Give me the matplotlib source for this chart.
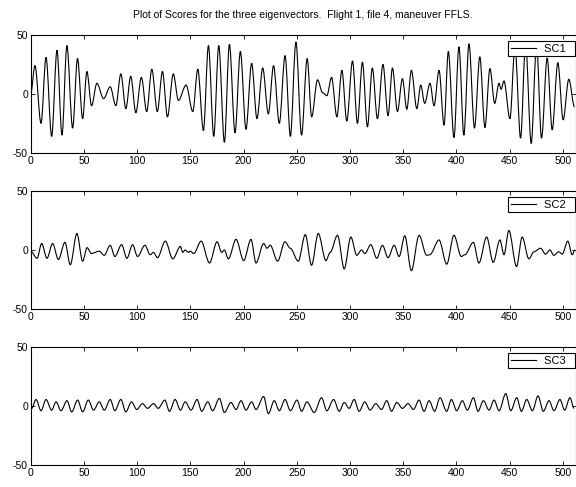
import matplotlib
matplotlib.use("Agg")
import matplotlib.pyplot as plt
from matplotlib.path import Path
from matplotlib.patches import PathPatch

plt.rcParams['font.family'] = ['Liberation Sans', 'DejaVu Sans']
plt.rcParams['axes.unicode_minus'] = False

title = "Plot of Scores for the three eigenvectors.  Flight 1, file 4, maneuver FFLS."
labels = ["SC1", "SC2", "SC3"]
xticks = [0, 50, 100, 150, 200, 250, 300, 350, 400, 450, 500]
yticks = [-50, 0, 50]

# peaks and troughs (sample index, score)
sc1_t = [0, 4, 9.7, 14.4, 19.7, 24.7, 29.4, 34, 39.4, 44, 48.8, 52.8, 57.2, 62.2, 68.5, 74.7, 80, 84.7,
         89.4, 94, 98.8, 104, 109, 113.8, 119, 123.8, 128.5, 134, 138.8, 146, 152.3, 157, 162.3, 167,
         172, 176.7, 182, 186.7, 192, 197, 202.3, 207.6, 212.6, 218, 223.3, 228.2, 233.6, 239, 244,
         249.2, 254.5, 259.8, 264, 269.5, 274.3, 278.3, 282.7, 287.7, 292.4, 297, 302.4, 307, 311.7,
         316.4, 321, 325.8, 331, 335.8, 339.9, 344.6, 349.3, 353.4, 357.7, 362.8, 366.5, 370.2, 375.2,
         379, 383.7, 388.4, 392.4, 397.7, 402.4, 407, 411.8, 417, 422, 426.8, 431.5, 436, 440, 442,
         444.7, 450.3, 455, 460.3, 465, 470.3, 475.3, 480, 485.3, 490, 495.3, 500.3, 505.6, 511]
sc1_v = [0, 24, -25, 31, -36, 37, -35, 41, -29, 30, -21, 19, -10, 9, -4, 6, -10, 17,
         -12.5, 15, -16, 14, -15, 21, -15, 19, -19.5, 17, -5.5, 7.5, -15, 21, -31, 41,
         -36, 41, -41, 42, -33, 36, -30, 26, -21, 22, -17, 24, -25, 32.5, -36,
         44, -35, 30, -19.5, 12, 1, -1.5, 14, -19.5, 20, -23, 28, -25, 27,
         -28, 22, -21, 25, -18.5, 22, -15, 13, -13, 20, -12.5, 7.5, -8, 9,
         -10, 20, -26.5, 36, -37, 40, -35, 42.5, -29, 31.5, -28.5, 21.5, -8, 9, 4,
         11, -21, 40, -37.5, 43, -42, 42, -37.5, 30.5, -30.5, 26.5, -22, 12.5, -11]

sc2_t = [0, 6, 10.3, 15.3, 20.6, 26, 32.2, 37.2, 43.4, 48.8, 53, 57, 64.4, 69.1, 74.7, 79.1, 85.4,
         90.4, 95.7, 100.4, 107.3, 112.3, 115.4, 119.1, 126.5, 133.5, 140.7, 142.9, 145.1, 148.2,
         150, 153.2, 160.1, 168, 175.1, 179.5, 182, 185.7, 193, 200.1, 207, 211.7, 218.9, 222,
         225.1, 232, 238.9, 243.9, 251.4, 258, 263.9, 270.2, 277.4, 281.4, 288.3, 294.6, 300.8,
         306.4, 310.8, 314, 319.6, 325.2, 330.5, 335.8, 341.5, 346.2, 351.5, 357.7, 364.9, 372.1,
         375, 383.7, 390.9, 397.7, 404.6, 408, 415.9, 421.2, 428.4, 434.6, 440.9, 444.7, 449.3,
         456.5, 461.8, 468.1, 472.8, 479.1, 483.8, 487.8, 491.6, 496.2, 499.4, 504.7, 508.8, 511.3]
sc2_v = [-1, -7, 5.5, -7, 5.5, -8, 6.5, -12.5, 14, -9.5, 2, -3, -1, -4.5, 4, -5.5, 4.5,
         -7, 4.5, -5.5, 4, -4, -2, -6.5, 7.5, -7.5, 3, -2, 0, -2,
         -1, -3, 7.5, -11, 7, -2, 0, -7.5, 9, -9, 9, -11, 5.5, 1.5,
         4, -9.5, 7, 1.5, -9.5, 13, -13, 14, -9, -2, 12.5, -16, 11,
         -4.5, 0, -3, 4.5, -7, 4, -6.5, 4, -5.5, 12, -17.5, 12.5, -4.5,
         -4, 8.5, -12, 12.5, -5.5, -4, 6.5, -11, 11, -10.5, 8.5, -4, 16.5,
         -14, 11, -7.5, -1.5, 1.5, -3.5, 0, -4.5, -1.5, -3.5, 7.5, -4, 0]

sc3_t = [0.9, 5, 9.7, 14.4, 19.7, 23.8, 28.5, 34.1, 38.5, 44.1, 48.8, 54.1, 59.1, 64.4, 69.1, 74.7,
         79.1, 84.7, 89.4, 94.7, 99.7, 105, 109.8, 115.4, 119.8, 126, 130.4, 135.7, 140.7, 145.1,
         150.7, 156.3, 160.7, 166.4, 171, 177.3, 182, 188.2, 192.9, 197.6, 202.3, 207.6, 211.7,
         218.9, 223.3, 228.9, 233.6, 239, 244, 250.2, 254.6, 259.5, 266.4, 273.3, 278.3, 284.6,
         289.9, 294.6, 299.2, 303.9, 308.6, 313.9, 318.9, 324.3, 329.6, 334.6, 339, 344, 349.3,
         354.6, 359.6, 364.9, 369.6, 374.3, 379.6, 384.6, 390.9, 395.3, 400.3, 405.6, 410.3, 416,
         420.3, 425.4, 430.7, 435.4, 440.1, 446.4, 451.1, 456.7, 461.1, 466.1, 471.4, 476.7, 481.7,
         487, 491.7, 497.3, 501.7, 506.7, 510.5]
sc3_v = [-2, 5.5, -4, 5.5, -3.5, 3.5, -4, 4.5, -5, 5, -5, 5, -3.5, 3.5, -3.5, 5.5,
         -4, 5.5, -5, 3.5, -3, 2, -2, 2, -2, 5, -4.5, 5.5, -3.5, 3.5,
         -3.5, 5.5, -4.5, 3.5, -4, 6.5, -5.5, 3, -3, 4.5, -3.5, 3.5, -3,
         8, -6.5, 4.5, -4, 5.5, -4, 5, -4.5, 3.5, -5.5, 7, -4, 5.5,
         -4.5, 3, -2, 5.5, -4.5, 3.5, -3.5, 2, -3, 4.5, -4.5, 3, -2,
         2, -3, 5, -4.5, 4.5, -4.5, 7, -4.5, 5.5, -4, 4.5, -3.5, 7,
         -4.5, 4.5, -3.5, 5, -4, 10.5, -4, 7, -4.5, 5.5, -4, 8.5, -4.5,
         4.5, -4, 5.5, -3.5, 7, -2]

series = [(sc1_t, sc1_v), (sc2_t, sc2_v), (sc3_t, sc3_v)]


# curve through the read extrema: flat tangent at each one, like the sampled signal
def smoothPath(t, v):
    verts = [(t[0], v[0])]
    codes = [Path.MOVETO]
    for k in range(1, len(t)):
        dt = t[k] - t[k - 1]
        verts += [(t[k - 1] + dt / 3.0, v[k - 1]), (t[k] - dt / 3.0, v[k]), (t[k], v[k])]
        codes += [Path.CURVE4] * 3
    return Path(verts, codes)


fig = plt.figure(figsize=(5.76, 4.87), dpi=100)
bottoms = [0.686, 0.3655, 0.0452]

for i in range(3):
    ax = fig.add_axes([0.0533, bottoms[i], 0.946, 0.2423])
    t, v = series[i]
    ax.add_patch(PathPatch(smoothPath(t, v), fill=False, edgecolor='black', linewidth=0.8))
    ax.plot([], [], color='black', linewidth=0.8, label=labels[i] + "  ")
    ax.set_xlim(0, 512)
    ax.set_ylim(-50, 50)
    ax.set_xticks(xticks)
    ax.set_yticks(yticks)
    ax.tick_params(direction='in', top=True, right=True, labelsize=7.5, length=3, width=0.6, pad=2)
    for s in ax.spines.values():
        s.set_linewidth(0.8)
    leg = ax.legend(loc='upper right', bbox_to_anchor=(0.998, 0.945), fancybox=False,
                    edgecolor='black', framealpha=1, fontsize=8, handlelength=2.3,
                    borderaxespad=0, borderpad=0.22, handletextpad=0.7)
    leg.get_frame().set_linewidth(0.8)
    if i == 0:
        ax.set_title(title, fontsize=7.5, pad=12)

fig.savefig("out.png", dpi=100)
